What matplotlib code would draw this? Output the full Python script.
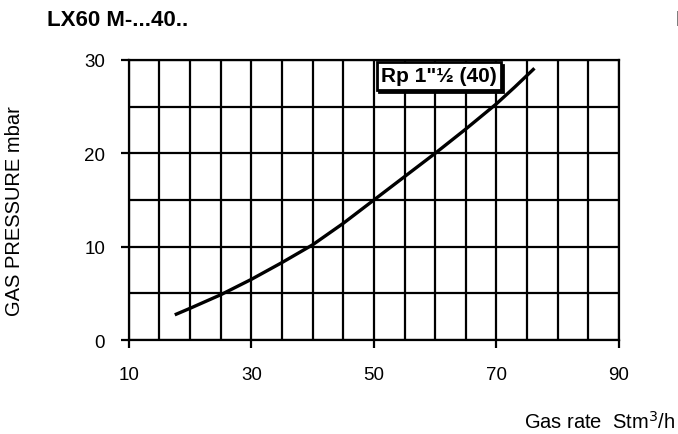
"""
Pressure drop curve for LX60 M-...40.. gas train
"""

import numpy as np
import matplotlib.pyplot as plt
import matplotlib.transforms as mtransforms
from matplotlib.ticker import MultipleLocator

plt.rcParams['font.family'] = ['Liberation Sans', 'DejaVu Sans']

# Curve
gas_rate = [17.5, 20, 25, 30, 35, 40, 45, 50, 55, 60, 65, 70, 73, 76.2]
pressure = [2.7, 3.4, 4.85, 6.5, 8.3, 10.2, 12.5, 15.0, 17.5, 20.0, 22.6, 25.3, 27.1, 29.1]

x_ticks = [10, 30, 50, 70, 90]
y_ticks = [0, 10, 20, 30]
curve_label = 'Rp 1"½ (40)'

fig = plt.figure(figsize=(6.78, 4.35), dpi=100)
ax = fig.add_axes([0.190, 0.216, 0.723, 0.644])

ax.plot(gas_rate, pressure, color='black', linewidth=2.4,
        solid_capstyle='butt', solid_joinstyle='round')

ax.set_xlim(10, 90)
ax.set_ylim(0, 30)
ax.set_xticks(x_ticks)
ax.set_yticks(y_ticks)
ax.xaxis.set_minor_locator(MultipleLocator(5))
ax.yaxis.set_minor_locator(MultipleLocator(5))

# Grid every 5 units on both axes
ax.grid(True, which='both', color='black', linewidth=1.6)
ax.set_axisbelow(True)
for s in ax.spines.values():
    s.set_linewidth(1.6)

ax.tick_params(which='major', direction='out', length=6, width=1.6,
               labelsize=13.5)
ax.tick_params(which='minor', length=0)
ax.tick_params(axis='y', pad=11)
ax.tick_params(axis='x', pad=13)

# Curve label box with drop shadow
shadow = mtransforms.offset_copy(ax.transAxes, fig=fig, x=2.5, y=-2.5, units='dots')
box_kw = dict(fontsize=15, fontweight='bold', ha='left', va='center')
ax.text(0.514, 0.943, curve_label, transform=shadow, zorder=4, color='black',
        bbox=dict(boxstyle='square,pad=0.2', facecolor='black',
                  edgecolor='black', linewidth=2), **box_kw)
ax.text(0.514, 0.943, curve_label, transform=ax.transAxes, zorder=5,
        bbox=dict(boxstyle='square,pad=0.2', facecolor='white',
                  edgecolor='black', linewidth=2), **box_kw)

fig.text(0.069, 0.954, 'LX60 M-...40..', fontsize=16, fontweight='bold',
         ha='left', va='center')
fig.text(0.996, 0.954, 'LX60', fontsize=16, fontweight='bold',
         ha='left', va='center')

fig.text(0.021, 0.515, 'GAS PRESSURE mbar', rotation=90, fontsize=14.5,
         ha='center', va='center')
fig.text(0.996, 0.03, 'Gas rate  Stm$^3$/h', fontsize=14.5,
         ha='right', va='center')

fig.savefig('out.png', dpi=100)
